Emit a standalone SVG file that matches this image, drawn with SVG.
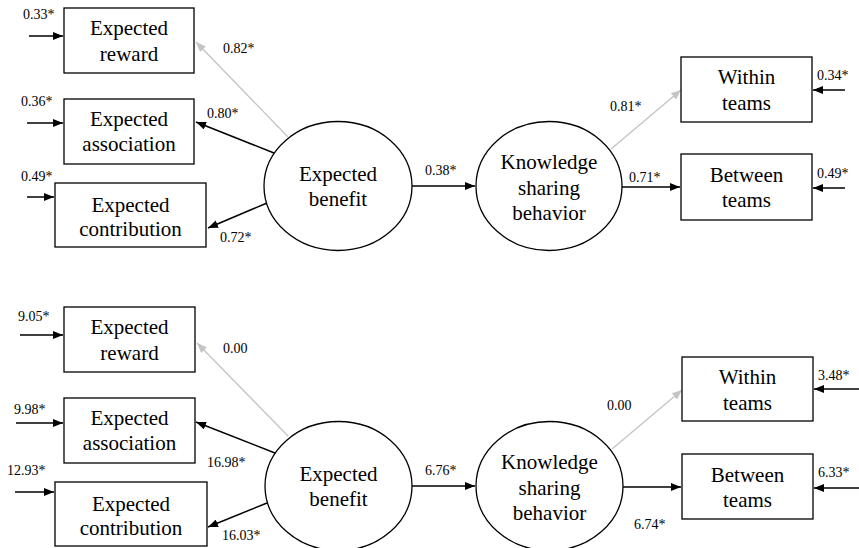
<svg xmlns="http://www.w3.org/2000/svg" width="859" height="548" viewBox="0 0 859 548">
<defs>
<marker id="ab" viewBox="0 0 10 8" refX="10" refY="4" markerWidth="10" markerHeight="8" markerUnits="userSpaceOnUse" orient="auto"><path d="M0,0 L10,4 L0,8 z" fill="#000"/></marker>
<marker id="ag" viewBox="0 0 10 8" refX="10" refY="4" markerWidth="10" markerHeight="8" markerUnits="userSpaceOnUse" orient="auto"><path d="M0,0 L10,4 L0,8 z" fill="#c4c4c4"/></marker>
</defs>
<style>
.box{fill:#fff;stroke:#000;stroke-width:1.3}
.ell{fill:#fff;stroke:#000;stroke-width:1.3}
.t{font-family:"Liberation Serif","Times New Roman",serif;font-size:21px;fill:#000;text-anchor:middle}
.n{font-family:"Liberation Serif","Times New Roman",serif;font-size:14px;fill:#000}
.b{stroke:#000;stroke-width:1.5;fill:none;marker-end:url(#ab)}
.g{stroke:#c4c4c4;stroke-width:1.3;fill:none;marker-end:url(#ag)}
</style>
<rect width="859" height="548" fill="#fff"/>

<g id="connectors">
<!-- top panel -->
<line class="b" x1="29" y1="36" x2="63" y2="36"/>
<line class="b" x1="27" y1="123" x2="63" y2="123"/>
<line class="b" x1="27" y1="197" x2="54" y2="197"/>
<line class="g" x1="288" y1="137" x2="196" y2="42"/>
<line class="b" x1="274" y1="153" x2="196" y2="122"/>
<line class="b" x1="267" y1="203" x2="208" y2="228"/>
<line class="b" x1="412" y1="186" x2="475" y2="186"/>
<line class="g" x1="611" y1="149" x2="681" y2="90"/>
<line class="b" x1="622" y1="187" x2="680" y2="187"/>
<line class="b" x1="845" y1="90" x2="813" y2="90"/>
<line class="b" x1="845" y1="188" x2="813" y2="188"/>
<!-- bottom panel -->
<line class="b" x1="20" y1="335" x2="63" y2="335"/>
<line class="b" x1="16" y1="423" x2="63" y2="423"/>
<line class="b" x1="15" y1="492" x2="54" y2="492"/>
<line class="g" x1="288" y1="436" x2="197" y2="343"/>
<line class="b" x1="275" y1="453" x2="196" y2="422"/>
<line class="b" x1="267" y1="503" x2="208" y2="527"/>
<line class="b" x1="412" y1="486" x2="475" y2="486"/>
<line class="g" x1="612" y1="449" x2="682" y2="390"/>
<line class="b" x1="623" y1="487" x2="681" y2="487"/>
<line class="b" x1="859" y1="389" x2="814" y2="389"/>
<line class="b" x1="859" y1="488" x2="814" y2="488"/>
</g>

<g id="labels">
<text class="n" x="23" y="19">0.33*</text>
<text class="n" x="21" y="106">0.36*</text>
<text class="n" x="21" y="181">0.49*</text>
<text class="n" x="223" y="53">0.82*</text>
<text class="n" x="207" y="118">0.80*</text>
<text class="n" x="220" y="242">0.72*</text>
<text class="n" x="425" y="175">0.38*</text>
<text class="n" x="610" y="111">0.81*</text>
<text class="n" x="629" y="182">0.71*</text>
<text class="n" x="817" y="80">0.34*</text>
<text class="n" x="817" y="178">0.49*</text>

<text class="n" x="18" y="321">9.05*</text>
<text class="n" x="14" y="414">9.98*</text>
<text class="n" x="7" y="475">12.93*</text>
<text class="n" x="223" y="353">0.00</text>
<text class="n" x="207" y="467">16.98*</text>
<text class="n" x="222" y="540">16.03*</text>
<text class="n" x="425" y="475">6.76*</text>
<text class="n" x="607" y="410">0.00</text>
<text class="n" x="634" y="529">6.74*</text>
<text class="n" x="818" y="380">3.48*</text>
<text class="n" x="818" y="477">6.33*</text>
</g>

<!-- top panel nodes -->
<g id="reward1"><rect class="box" x="64" y="8" width="130" height="65"/><text class="t" x="129" y="35">Expected</text><text class="t" x="129" y="61">reward</text></g>
<g id="association1"><rect class="box" x="64" y="99" width="130" height="65"/><text class="t" x="129" y="126">Expected</text><text class="t" x="129" y="151">association</text></g>
<g id="contribution1"><rect class="box" x="55" y="183" width="151" height="64"/><text class="t" x="130.5" y="212">Expected</text><text class="t" x="130.5" y="236">contribution</text></g>
<g id="benefit1"><ellipse class="ell" cx="338" cy="186" rx="74" ry="64.5"/><text class="t" x="338" y="181">Expected</text><text class="t" x="338" y="206">benefit</text></g>
<g id="ksb1"><ellipse class="ell" cx="549" cy="186" rx="73" ry="64.5"/><text class="t" x="549" y="169">Knowledge</text><text class="t" x="549" y="195">sharing</text><text class="t" x="549" y="220">behavior</text></g>
<g id="within1"><rect class="box" x="681" y="57" width="131" height="65"/><text class="t" x="746.5" y="84">Within</text><text class="t" x="746.5" y="110">teams</text></g>
<g id="between1"><rect class="box" x="681" y="154" width="131" height="66"/><text class="t" x="746.5" y="182">Between</text><text class="t" x="746.5" y="207">teams</text></g>

<!-- bottom panel nodes -->
<g id="reward2"><rect class="box" x="64" y="307" width="131" height="65"/><text class="t" x="129.5" y="334">Expected</text><text class="t" x="129.5" y="360">reward</text></g>
<g id="association2"><rect class="box" x="64" y="398" width="131" height="65"/><text class="t" x="129.5" y="425">Expected</text><text class="t" x="129.5" y="450">association</text></g>
<g id="contribution2"><rect class="box" x="55" y="482" width="152" height="64"/><text class="t" x="131" y="511">Expected</text><text class="t" x="131" y="535">contribution</text></g>
<g id="benefit2"><ellipse class="ell" cx="338.5" cy="486" rx="73.5" ry="64.5"/><text class="t" x="338.5" y="481">Expected</text><text class="t" x="338.5" y="506">benefit</text></g>
<g id="ksb2"><ellipse class="ell" cx="549.5" cy="486" rx="73.5" ry="64.5"/><text class="t" x="549.5" y="469">Knowledge</text><text class="t" x="549.5" y="495">sharing</text><text class="t" x="549.5" y="520">behavior</text></g>
<g id="within2"><rect class="box" x="682" y="357" width="131" height="64"/><text class="t" x="747.5" y="384">Within</text><text class="t" x="747.5" y="410">teams</text></g>
<g id="between2"><rect class="box" x="682" y="454" width="131" height="65"/><text class="t" x="747.5" y="482">Between</text><text class="t" x="747.5" y="507">teams</text></g>
</svg>
